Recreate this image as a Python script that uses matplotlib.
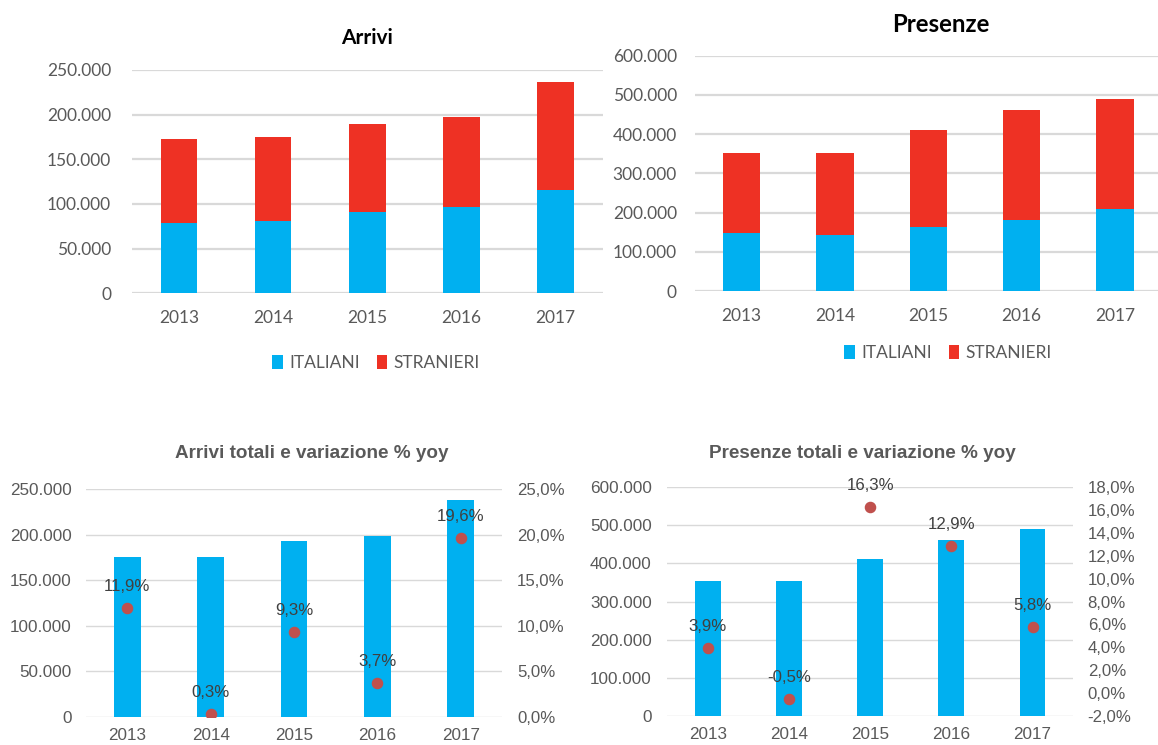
import matplotlib
matplotlib.use("Agg")
import matplotlib.pyplot as plt
from matplotlib.patches import Patch
from matplotlib.ticker import FuncFormatter, MultipleLocator
import numpy as np

# ---------------- data ----------------
years = ["2013", "2014", "2015", "2016", "2017"]

arrivi_italiani = [78700, 80600, 91400, 97000, 115700]
arrivi_stranieri = [94000, 94400, 98100, 100000, 120500]

presenze_italiani = [147000, 142800, 164000, 181000, 210000]
presenze_stranieri = [204900, 209200, 246500, 279700, 279600]

arrivi_totali = [175500, 175500, 192700, 199000, 238200]
arrivi_var = [11.9, 0.3, 9.3, 3.7, 19.6]

presenze_totali = [353900, 353900, 412600, 462500, 489700]
presenze_var = [3.9, -0.5, 16.3, 12.9, 5.8]

series_labels = ["ITALIANI", "STRANIERI"]

# ---------------- style ----------------
BLUE = "#00B0F0"
RED = "#EE3124"
DOT = "#C0504D"
GRID = "#D9D9D9"
TICK = "#595959"
LABEL = "#404040"
TOPFONT = "Lato"
BOTFONT = "Liberation Sans"

W, H = 1158, 745
fig = plt.figure(figsize=(W / 100, H / 100), dpi=100)
fig.patch.set_facecolor("white")


def ax_at(left, right, top, bottom):
    return fig.add_axes([left / W, 1 - bottom / H, (right - left) / W, (bottom - top) / H])


def thousands(v, pos=None):
    v = int(round(v))
    return f"{v:,}".replace(",", ".")


def pct(v, pos=None):
    return f"{v:.1f}%".replace(".", ",")


def style_axes(ax, font, size, ypad, xpad, gridlw):
    for s in ax.spines.values():
        s.set_visible(False)
    ax.tick_params(axis="both", length=0, colors=TICK)
    ax.tick_params(axis="y", pad=ypad)
    ax.tick_params(axis="x", pad=xpad)
    ax.yaxis.grid(True, color=GRID, linewidth=gridlw)
    ax.set_axisbelow(True)
    for lbl in ax.get_xticklabels() + ax.get_yticklabels():
        lbl.set_fontfamily(font)
        lbl.set_fontsize(size)
        lbl.set_color(TICK)


x = np.arange(len(years))

# ---------------- top-left: Arrivi ----------------
ax1 = ax_at(132, 602.5, 70, 293.3)
ax1.bar(x, arrivi_italiani, width=0.39, color=BLUE, zorder=2)
ax1.bar(x, arrivi_stranieri, width=0.39, bottom=arrivi_italiani, color=RED, zorder=2)
ax1.set_xlim(-0.5, 4.5)
ax1.set_ylim(0, 250000)
ax1.yaxis.set_major_locator(MultipleLocator(50000))
ax1.yaxis.set_major_formatter(FuncFormatter(thousands))
ax1.set_xticks(x)
ax1.set_xticklabels(years)
style_axes(ax1, TOPFONT, 12.5, 15, 12, 1.6)
fig.text(367 / W, 1 - 37.5 / H, "Arrivi", ha="center", va="center",
         fontfamily=TOPFONT, fontweight="bold", fontsize=15, color="black")

# ---------------- top-right: Presenze ----------------
ax2 = ax_at(695, 1161.7, 55.7, 291)
ax2.bar(x, presenze_italiani, width=0.40, color=BLUE, zorder=2)
ax2.bar(x, presenze_stranieri, width=0.40, bottom=presenze_italiani, color=RED, zorder=2)
ax2.set_xlim(-0.5, 4.5)
ax2.set_ylim(0, 600000)
ax2.yaxis.set_major_locator(MultipleLocator(100000))
ax2.yaxis.set_major_formatter(FuncFormatter(thousands))
ax2.set_xticks(x)
ax2.set_xticklabels(years)
style_axes(ax2, TOPFONT, 12.5, 13, 12, 1.6)
fig.text(941 / W, 1 - 25 / H, "Presenze", ha="center", va="center",
         fontfamily=TOPFONT, fontweight="bold", fontsize=17.3, color="black")

handles = [Patch(facecolor=BLUE, label=series_labels[0]),
           Patch(facecolor=RED, label=series_labels[1])]
for cx, cy in [(376, 363), (948, 353)]:
    fig.legend(handles=handles, loc="center", bbox_to_anchor=(cx / W, 1 - cy / H),
               ncol=2, frameon=False, handlelength=0.6, handleheight=0.9,
               handletextpad=0.35, columnspacing=1.0,
               prop={"family": TOPFONT, "size": 12.5}, labelcolor=TICK)


# ---------------- bottom combo charts ----------------
def combo(left, right, top, bottom, totals, var, ymax, ystep, rmin, rmax, rstep,
          title, title_x, title_y, ypad, rpad):
    ax = ax_at(left, right, top, bottom)
    ax.bar(x, totals, width=0.32, color=BLUE, zorder=2)
    ax.set_xlim(-0.5, 4.5)
    ax.set_ylim(0, ymax)
    ax.yaxis.set_major_locator(MultipleLocator(ystep))
    ax.yaxis.set_major_formatter(FuncFormatter(thousands))
    ax.set_xticks(x)
    ax.set_xticklabels(years)
    style_axes(ax, BOTFONT, 12.3, ypad, 8, 1.0)

    axr = ax.twinx()
    axr.set_ylim(rmin, rmax)
    axr.yaxis.set_major_locator(MultipleLocator(rstep))
    axr.yaxis.set_major_formatter(FuncFormatter(pct))
    for s in axr.spines.values():
        s.set_visible(False)
    axr.tick_params(axis="y", length=0, colors=TICK, pad=rpad)
    for lbl in axr.get_yticklabels():
        lbl.set_fontfamily(BOTFONT)
        lbl.set_fontsize(12.1)
        lbl.set_color(TICK)
    axr.plot(x, var, linestyle="none", marker="o", markersize=7.3,
             color=DOT, zorder=3)
    for xi, v in zip(x, var):
        axr.annotate(pct(v), (xi, v), xytext=(0, 15.5), textcoords="offset points",
                     ha="center", va="center", fontfamily=BOTFONT,
                     fontsize=12.1, color=LABEL)
    fig.text(title_x / W, 1 - title_y / H, title, ha="center", va="center",
             fontfamily=BOTFONT, fontweight="bold", fontsize=13.6, color=TICK)
    return ax, axr


combo(85.6, 502.4, 489.3, 716.7, arrivi_totali, arrivi_var,
      250000, 50000, 0, 25, 5,
      "Arrivi totali e variazione % yoy", 311.5, 454, 10, 10.5)
combo(667.1, 1073.1, 487.3, 715.7, presenze_totali, presenze_var,
      600000, 100000, -2, 18, 2,
      "Presenze totali e variazione % yoy", 862, 453, 11, 10.5)

fig.savefig("out.png", dpi=100, facecolor="white")
